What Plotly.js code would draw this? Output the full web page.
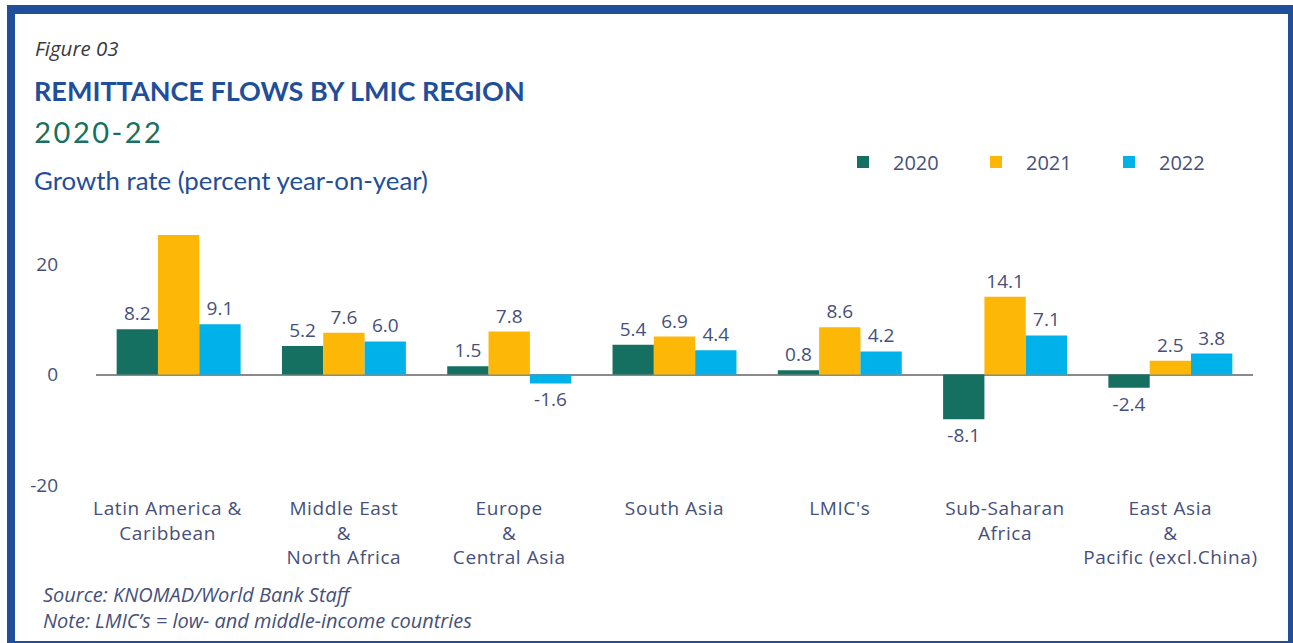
<!DOCTYPE html>
<html>
<head>
<meta charset="utf-8">
<script src="https://cdn.plot.ly/plotly-3.0.1.min.js"></script>
<style>
  html, body { margin: 0; padding: 0; background: #fff; overflow: hidden; }
  #chart { width: 1293px; height: 643px; position: absolute; left: 0; top: 0; }
  #frame { position: absolute; left: 7px; top: 5px; width: 1290px; height: 645px;
           box-sizing: border-box; border: 9px solid #1f4e9a; border-left-width: 8px;
           pointer-events: none; }
  #chart g.annotation[data-index="2"] text { letter-spacing: 2.5px; }
  #chart g.xtick text { letter-spacing: 0.6px; }
</style>
</head>
<body>
<div id="chart"></div>
<div id="frame"></div>
<script>
// ---- data ----
const categories = [
  "Latin America &\u00a0\u00a0\u00a0\u00a0<br>Caribbean\u00a0\u00a0\u00a0\u00a0",
  "Middle East<br>&<br>North Africa",
  "Europe<br>&<br>Central Asia",
  "South Asia",
  "LMIC's",
  "Sub-Saharan<br>Africa",
  "East Asia<br>&<br>Pacific (excl.China)"
];
const seriesNames = ["2020", "2021", "2022"];
const values2020 = [8.2, 5.2, 1.5, 5.4, 0.8, -8.1, -2.4];
const values2021 = [25.3, 7.6, 7.8, 6.9, 8.6, 14.1, 2.5];
const values2022 = [9.1, 6.0, -1.6, 4.4, 4.2, 7.1, 3.8];
const labels2020 = ["8.2", "5.2", "1.5", "5.4", "0.8", "-8.1", "-2.4"];
const labels2021 = ["", "7.6", "7.8", "6.9", "8.6", "14.1", "2.5"];
const labels2022 = ["9.1", "6.0", "-1.6", "4.4", "4.2", "7.1", "3.8"];
const yTickVals = [-20, 0, 20];
const yTickText = ["-20", "0", "20"];

const colors = ["#157061", "#fdb706", "#00b1ea"];
const textColor = "#46507a";
const FONT = "'Open Sans', Lato, sans-serif";
const HFONT = "Lato, 'Open Sans', sans-serif";

const allValues = [values2020, values2021, values2022];
const allLabels = [labels2020, labels2021, labels2022];

const traces = seriesNames.map((name, i) => ({
  type: "bar",
  name: name,
  x: categories,
  y: allValues[i],
  text: allLabels[i],
  textposition: "outside",
  textfont: { family: FONT, size: 19, color: textColor },
  constraintext: "none",
  cliponaxis: false,
  marker: { color: colors[i], line: { width: 0 } },
  hoverinfo: "x+y"
}));

// plot area geometry (pixels)
const L = 96, R = 40, T = 209, B = 158, W = 1293, H = 643;
const pw = W - L - R, ph = H - T - B;
const px = x => (x - L) / pw;
const py = y => (H - B - y) / ph;

const layout = {
  width: W, height: H,
  margin: { l: L, r: R, t: T, b: B, pad: 0, autoexpand: false },
  paper_bgcolor: "#ffffff",
  plot_bgcolor: "#ffffff",
  font: { family: FONT, color: textColor },
  barmode: "group",
  bargap: 0.25,
  bargroupgap: 0,
  showlegend: true,
  legend: {
    orientation: "h",
    x: px(833), y: py(162), xanchor: "left", yanchor: "middle",
    font: { family: FONT, size: 20, color: textColor },
    itemwidth: 50,
    entrywidth: 68, entrywidthmode: "pixels",
    bgcolor: "rgba(0,0,0,0)"
  },
  xaxis: {
    type: "category",
    showgrid: false, zeroline: false, showline: false,
    ticks: "",
    tickfont: { family: FONT, size: 19, color: textColor },
    ticklabelstandoff: 10,
    fixedrange: true
  },
  yaxis: {
    range: [-20, 30],
    tickvals: yTickVals,
    ticktext: yTickText,
    showgrid: false, showline: false,
    zeroline: true, zerolinecolor: "#8a8a8a", zerolinewidth: 2,
    ticks: "",
    tickfont: { family: FONT, size: 19, color: textColor },
    ticklabelstandoff: 37,
    fixedrange: true
  },
  annotations: [
    { text: "Figure 03", xref: "paper", yref: "paper", x: px(33), y: py(48),
      xanchor: "left", yanchor: "middle", showarrow: false,
      font: { family: FONT, size: 20.5, color: "#3a3a3a", style: "italic" } },
    { text: "<b>REMITTANCE FLOWS BY LMIC REGION</b>", xref: "paper", yref: "paper", x: px(32), y: py(90),
      xanchor: "left", yanchor: "middle", showarrow: false,
      font: { family: HFONT, size: 27, color: "#1f4e9a" } },
    { text: "2020-22", xref: "paper", yref: "paper", x: px(41), y: py(131),
      xanchor: "left", yanchor: "middle", showarrow: false,
      font: { family: HFONT, size: 29, color: "#177060" } },
    { text: "Growth rate (percent year-on-year)", xref: "paper", yref: "paper", x: px(32), y: py(180),
      xanchor: "left", yanchor: "middle", showarrow: false,
      font: { family: HFONT, size: 25.8, color: "#1f4e9a" } },
    { text: "Source: KNOMAD/World Bank Staff", xref: "paper", yref: "paper", x: px(41), y: py(594),
      xanchor: "left", yanchor: "middle", showarrow: false,
      font: { family: FONT, size: 20, color: textColor, style: "italic" } },
    { text: "Note: LMIC’s = low- and middle-income countries", xref: "paper", yref: "paper", x: px(41), y: py(620),
      xanchor: "left", yanchor: "middle", showarrow: false,
      font: { family: FONT, size: 20, color: textColor, style: "italic" } }
  ]
};

Plotly.newPlot("chart", traces, layout, { displayModeBar: false, staticPlot: true });
</script>
</body>
</html>
